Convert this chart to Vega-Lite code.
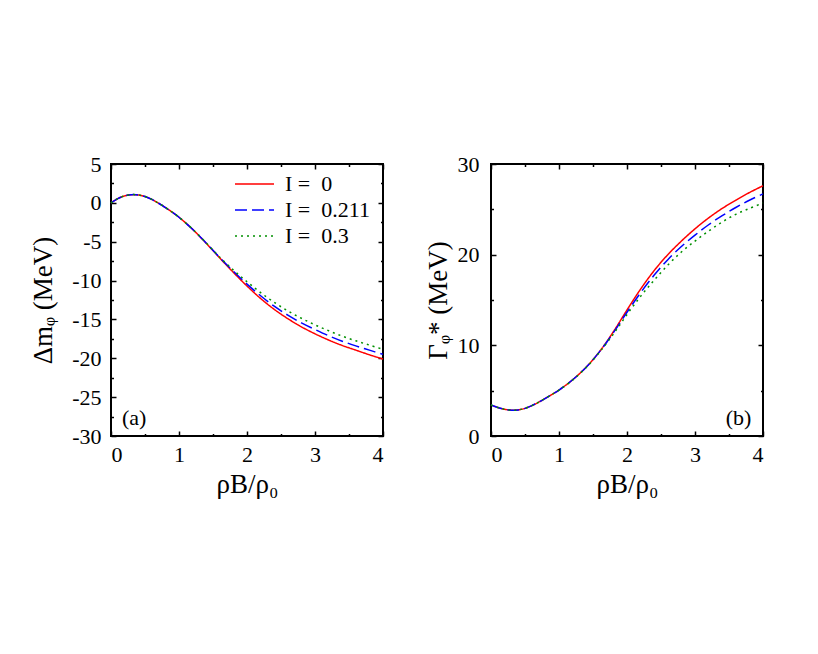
{
  "$schema": "https://vega.github.io/schema/vega-lite/v6.json",
  "padding": {"left": 28, "top": 152, "right": 5, "bottom": 5},
  "background": "white",
  "spacing": 108,
  "bounds": "flush",
  "config": {
    "font": "Liberation Serif",
    "view": {"stroke": "black", "strokeWidth": 2},
    "axis": {
      "grid": false, "domain": false,
      "labelFont": "Liberation Serif", "labelFontSize": 22, "labelColor": "black",
      "titleFont": "Liberation Serif", "titleFontSize": 27, "titleFontWeight": "normal", "titleColor": "black",
      "tickColor": "black", "tickWidth": 1.5
    },
    "legend": {"labelFont": "Liberation Serif"},
    "text": {"font": "Liberation Serif", "fontSize": 22, "color": "black"}
  },
  "datasets": {
    "dm": [
      {"rho": 0.0, "I": "I = \u00a00", "v": 0.0}, {"rho": 0.1, "I": "I = \u00a00", "v": 0.55}, {"rho": 0.2, "I": "I = \u00a00", "v": 0.9}, {"rho": 0.3, "I": "I = \u00a00", "v": 1.05}, {"rho": 0.4, "I": "I = \u00a00", "v": 1.02}, {"rho": 0.5, "I": "I = \u00a00", "v": 0.82}, {"rho": 0.6, "I": "I = \u00a00", "v": 0.45}, {"rho": 0.7, "I": "I = \u00a00", "v": -0.05}, {"rho": 0.8, "I": "I = \u00a00", "v": -0.6}, {"rho": 0.9, "I": "I = \u00a00", "v": -1.2}, {"rho": 1.0, "I": "I = \u00a00", "v": -1.85}, {"rho": 1.2, "I": "I = \u00a00", "v": -3.4}, {"rho": 1.4, "I": "I = \u00a00", "v": -5.2}, {"rho": 1.6, "I": "I = \u00a00", "v": -7.1}, {"rho": 1.8, "I": "I = \u00a00", "v": -8.95}, {"rho": 2.0, "I": "I = \u00a00", "v": -10.7}, {"rho": 2.2, "I": "I = \u00a00", "v": -12.3}, {"rho": 2.4, "I": "I = \u00a00", "v": -13.7}, {"rho": 2.6, "I": "I = \u00a00", "v": -14.9}, {"rho": 2.8, "I": "I = \u00a00", "v": -15.95}, {"rho": 3.0, "I": "I = \u00a00", "v": -16.85}, {"rho": 3.2, "I": "I = \u00a00", "v": -17.65}, {"rho": 3.4, "I": "I = \u00a00", "v": -18.35}, {"rho": 3.6, "I": "I = \u00a00", "v": -18.95}, {"rho": 3.8, "I": "I = \u00a00", "v": -19.55}, {"rho": 4.0, "I": "I = \u00a00", "v": -20.1},
      {"rho": 0.0, "I": "I = \u00a00.211", "v": 0.0}, {"rho": 0.1, "I": "I = \u00a00.211", "v": 0.55}, {"rho": 0.2, "I": "I = \u00a00.211", "v": 0.9}, {"rho": 0.3, "I": "I = \u00a00.211", "v": 1.05}, {"rho": 0.4, "I": "I = \u00a00.211", "v": 1.02}, {"rho": 0.5, "I": "I = \u00a00.211", "v": 0.82}, {"rho": 0.6, "I": "I = \u00a00.211", "v": 0.45}, {"rho": 0.7, "I": "I = \u00a00.211", "v": -0.05}, {"rho": 0.8, "I": "I = \u00a00.211", "v": -0.6}, {"rho": 0.9, "I": "I = \u00a00.211", "v": -1.2}, {"rho": 1.0, "I": "I = \u00a00.211", "v": -1.85}, {"rho": 1.2, "I": "I = \u00a00.211", "v": -3.4}, {"rho": 1.4, "I": "I = \u00a00.211", "v": -5.18}, {"rho": 1.6, "I": "I = \u00a00.211", "v": -7.05}, {"rho": 1.8, "I": "I = \u00a00.211", "v": -8.8}, {"rho": 2.0, "I": "I = \u00a00.211", "v": -10.45}, {"rho": 2.2, "I": "I = \u00a00.211", "v": -11.95}, {"rho": 2.4, "I": "I = \u00a00.211", "v": -13.3}, {"rho": 2.6, "I": "I = \u00a00.211", "v": -14.45}, {"rho": 2.8, "I": "I = \u00a00.211", "v": -15.45}, {"rho": 3.0, "I": "I = \u00a00.211", "v": -16.3}, {"rho": 3.2, "I": "I = \u00a00.211", "v": -17.1}, {"rho": 3.4, "I": "I = \u00a00.211", "v": -17.8}, {"rho": 3.6, "I": "I = \u00a00.211", "v": -18.4}, {"rho": 3.8, "I": "I = \u00a00.211", "v": -18.95}, {"rho": 4.0, "I": "I = \u00a00.211", "v": -19.5},
      {"rho": 0.0, "I": "I = \u00a00.3", "v": 0.0}, {"rho": 0.1, "I": "I = \u00a00.3", "v": 0.55}, {"rho": 0.2, "I": "I = \u00a00.3", "v": 0.9}, {"rho": 0.3, "I": "I = \u00a00.3", "v": 1.05}, {"rho": 0.4, "I": "I = \u00a00.3", "v": 1.02}, {"rho": 0.5, "I": "I = \u00a00.3", "v": 0.82}, {"rho": 0.6, "I": "I = \u00a00.3", "v": 0.45}, {"rho": 0.7, "I": "I = \u00a00.3", "v": -0.05}, {"rho": 0.8, "I": "I = \u00a00.3", "v": -0.6}, {"rho": 0.9, "I": "I = \u00a00.3", "v": -1.2}, {"rho": 1.0, "I": "I = \u00a00.3", "v": -1.85}, {"rho": 1.2, "I": "I = \u00a00.3", "v": -3.38}, {"rho": 1.4, "I": "I = \u00a00.3", "v": -5.15}, {"rho": 1.6, "I": "I = \u00a00.3", "v": -7.0}, {"rho": 1.8, "I": "I = \u00a00.3", "v": -8.65}, {"rho": 2.0, "I": "I = \u00a00.3", "v": -10.15}, {"rho": 2.2, "I": "I = \u00a00.3", "v": -11.55}, {"rho": 2.4, "I": "I = \u00a00.3", "v": -12.8}, {"rho": 2.6, "I": "I = \u00a00.3", "v": -13.9}, {"rho": 2.8, "I": "I = \u00a00.3", "v": -14.85}, {"rho": 3.0, "I": "I = \u00a00.3", "v": -15.7}, {"rho": 3.2, "I": "I = \u00a00.3", "v": -16.45}, {"rho": 3.4, "I": "I = \u00a00.3", "v": -17.15}, {"rho": 3.6, "I": "I = \u00a00.3", "v": -17.75}, {"rho": 3.8, "I": "I = \u00a00.3", "v": -18.3}, {"rho": 4.0, "I": "I = \u00a00.3", "v": -18.85}
    ],
    "gw": [
      {"rho": 0.0, "I": "I = \u00a00", "v": 3.42}, {"rho": 0.1, "I": "I = \u00a00", "v": 3.15}, {"rho": 0.2, "I": "I = \u00a00", "v": 2.95}, {"rho": 0.3, "I": "I = \u00a00", "v": 2.85}, {"rho": 0.4, "I": "I = \u00a00", "v": 2.88}, {"rho": 0.5, "I": "I = \u00a00", "v": 3.05}, {"rho": 0.6, "I": "I = \u00a00", "v": 3.35}, {"rho": 0.7, "I": "I = \u00a00", "v": 3.72}, {"rho": 0.8, "I": "I = \u00a00", "v": 4.15}, {"rho": 0.9, "I": "I = \u00a00", "v": 4.6}, {"rho": 1.0, "I": "I = \u00a00", "v": 5.07}, {"rho": 1.2, "I": "I = \u00a00", "v": 6.2}, {"rho": 1.4, "I": "I = \u00a00", "v": 7.6}, {"rho": 1.6, "I": "I = \u00a00", "v": 9.35}, {"rho": 1.8, "I": "I = \u00a00", "v": 11.5}, {"rho": 2.0, "I": "I = \u00a00", "v": 13.9}, {"rho": 2.2, "I": "I = \u00a00", "v": 16.2}, {"rho": 2.4, "I": "I = \u00a00", "v": 18.25}, {"rho": 2.6, "I": "I = \u00a00", "v": 20.0}, {"rho": 2.8, "I": "I = \u00a00", "v": 21.5}, {"rho": 3.0, "I": "I = \u00a00", "v": 22.85}, {"rho": 3.2, "I": "I = \u00a00", "v": 24.05}, {"rho": 3.4, "I": "I = \u00a00", "v": 25.1}, {"rho": 3.6, "I": "I = \u00a00", "v": 26.0}, {"rho": 3.8, "I": "I = \u00a00", "v": 26.85}, {"rho": 4.0, "I": "I = \u00a00", "v": 27.6},
      {"rho": 0.0, "I": "I = \u00a00.211", "v": 3.42}, {"rho": 0.1, "I": "I = \u00a00.211", "v": 3.15}, {"rho": 0.2, "I": "I = \u00a00.211", "v": 2.95}, {"rho": 0.3, "I": "I = \u00a00.211", "v": 2.85}, {"rho": 0.4, "I": "I = \u00a00.211", "v": 2.88}, {"rho": 0.5, "I": "I = \u00a00.211", "v": 3.05}, {"rho": 0.6, "I": "I = \u00a00.211", "v": 3.35}, {"rho": 0.7, "I": "I = \u00a00.211", "v": 3.72}, {"rho": 0.8, "I": "I = \u00a00.211", "v": 4.15}, {"rho": 0.9, "I": "I = \u00a00.211", "v": 4.6}, {"rho": 1.0, "I": "I = \u00a00.211", "v": 5.07}, {"rho": 1.2, "I": "I = \u00a00.211", "v": 6.2}, {"rho": 1.4, "I": "I = \u00a00.211", "v": 7.59}, {"rho": 1.6, "I": "I = \u00a00.211", "v": 9.33}, {"rho": 1.8, "I": "I = \u00a00.211", "v": 11.4}, {"rho": 2.0, "I": "I = \u00a00.211", "v": 13.65}, {"rho": 2.2, "I": "I = \u00a00.211", "v": 15.8}, {"rho": 2.4, "I": "I = \u00a00.211", "v": 17.75}, {"rho": 2.6, "I": "I = \u00a00.211", "v": 19.45}, {"rho": 2.8, "I": "I = \u00a00.211", "v": 20.9}, {"rho": 3.0, "I": "I = \u00a00.211", "v": 22.15}, {"rho": 3.2, "I": "I = \u00a00.211", "v": 23.3}, {"rho": 3.4, "I": "I = \u00a00.211", "v": 24.3}, {"rho": 3.6, "I": "I = \u00a00.211", "v": 25.2}, {"rho": 3.8, "I": "I = \u00a00.211", "v": 26.0}, {"rho": 4.0, "I": "I = \u00a00.211", "v": 26.7},
      {"rho": 0.0, "I": "I = \u00a00.3", "v": 3.42}, {"rho": 0.1, "I": "I = \u00a00.3", "v": 3.15}, {"rho": 0.2, "I": "I = \u00a00.3", "v": 2.95}, {"rho": 0.3, "I": "I = \u00a00.3", "v": 2.85}, {"rho": 0.4, "I": "I = \u00a00.3", "v": 2.88}, {"rho": 0.5, "I": "I = \u00a00.3", "v": 3.05}, {"rho": 0.6, "I": "I = \u00a00.3", "v": 3.35}, {"rho": 0.7, "I": "I = \u00a00.3", "v": 3.72}, {"rho": 0.8, "I": "I = \u00a00.3", "v": 4.15}, {"rho": 0.9, "I": "I = \u00a00.3", "v": 4.6}, {"rho": 1.0, "I": "I = \u00a00.3", "v": 5.06}, {"rho": 1.2, "I": "I = \u00a00.3", "v": 6.17}, {"rho": 1.4, "I": "I = \u00a00.3", "v": 7.56}, {"rho": 1.6, "I": "I = \u00a00.3", "v": 9.28}, {"rho": 1.8, "I": "I = \u00a00.3", "v": 11.25}, {"rho": 2.0, "I": "I = \u00a00.3", "v": 13.4}, {"rho": 2.2, "I": "I = \u00a00.3", "v": 15.4}, {"rho": 2.4, "I": "I = \u00a00.3", "v": 17.2}, {"rho": 2.6, "I": "I = \u00a00.3", "v": 18.85}, {"rho": 2.8, "I": "I = \u00a00.3", "v": 20.3}, {"rho": 3.0, "I": "I = \u00a00.3", "v": 21.5}, {"rho": 3.2, "I": "I = \u00a00.3", "v": 22.6}, {"rho": 3.4, "I": "I = \u00a00.3", "v": 23.6}, {"rho": 3.6, "I": "I = \u00a00.3", "v": 24.45}, {"rho": 3.8, "I": "I = \u00a00.3", "v": 25.1}, {"rho": 4.0, "I": "I = \u00a00.3", "v": 25.7}
    ]
  },
  "hconcat": [
    {
      "width": 272, "height": 272,
      "data": {"name": "dm"},
      "resolve": {"axis": {"x": "independent", "y": "independent"}},
      "layer": [
        {
          "mark": {"type": "line", "strokeWidth": 1.5, "interpolate": "catmull-rom"},
          "encoding": {
            "x": {"field": "rho", "type": "quantitative", "scale": {"domain": [0, 4], "nice": false},
                  "axis": {"orient": "bottom", "values": [0, 1, 2, 3, 4], "tickSize": -5, "labelPadding": 13, "labelExpr": "'' + datum.value", "labelFont": "Liberation Serif", "titleFont": "Liberation Serif", "title": "ρB/ρ₀", "titlePadding": 6}},
            "y": {"field": "v", "type": "quantitative", "scale": {"domain": [-30, 5], "nice": false, "zero": false},
                  "axis": {"orient": "left", "values": [-30, -25, -20, -15, -10, -5, 0, 5], "tickSize": -5, "labelPadding": 15, "labelExpr": "'' + datum.value", "labelFont": "Liberation Serif", "titleFont": "Liberation Serif", "title": "Δmᵩ (MeV)", "titlePadding": 14}},
            "color": {"field": "I", "type": "nominal",
                      "scale": {"domain": ["I = \u00a00", "I = \u00a00.211", "I = \u00a00.3"], "range": ["#ff0000", "#0000ff", "#009000"]},
                      "legend": {"orient": "none", "legendX": 123, "legendY": 9, "title": null, "symbolType": "stroke", "symbolSize": 1521, "symbolStrokeWidth": 1.5, "labelFont": "Liberation Serif", "labelFontSize": 22, "labelColor": "black", "labelOffset": 10, "rowPadding": 4, "clipHeight": 22, "padding": 0}},
            "strokeDash": {"field": "I", "type": "nominal",
                      "scale": {"domain": ["I = \u00a00", "I = \u00a00.211", "I = \u00a00.3"], "range": [[1, 0], [12, 5], [2, 4]]},
                      "legend": {"orient": "none", "legendX": 123, "legendY": 9, "title": null, "symbolType": "stroke", "symbolSize": 1521, "symbolStrokeWidth": 1.5, "labelFont": "Liberation Serif", "labelFontSize": 22, "labelColor": "black", "labelOffset": 10, "rowPadding": 4, "clipHeight": 22, "padding": 0}}
          }
        },
        {
          "mark": {"type": "point", "opacity": 0},
          "encoding": {
            "x": {"field": "rho", "type": "quantitative", "axis": {"orient": "top", "values": [0, 1, 2, 3, 4], "tickSize": -5, "labels": false, "title": null}},
            "y": {"field": "v", "type": "quantitative", "axis": {"orient": "right", "values": [-30, -25, -20, -15, -10, -5, 0, 5], "tickSize": -5, "labels": false, "title": null}}
          }
        },
        {
          "mark": {"type": "point", "opacity": 0},
          "encoding": {
            "x": {"field": "rho", "type": "quantitative", "axis": {"orient": "bottom", "values": [0.5, 1.5, 2.5, 3.5], "tickSize": -2.5, "labels": false, "title": null}},
            "y": {"field": "v", "type": "quantitative", "axis": {"orient": "left", "values": [-27.5, -22.5, -17.5, -12.5, -7.5, -2.5, 2.5], "tickSize": -2.5, "labels": false, "title": null}}
          }
        },
        {
          "mark": {"type": "point", "opacity": 0},
          "encoding": {
            "x": {"field": "rho", "type": "quantitative", "axis": {"orient": "top", "values": [0.5, 1.5, 2.5, 3.5], "tickSize": -2.5, "labels": false, "title": null}},
            "y": {"field": "v", "type": "quantitative", "axis": {"orient": "right", "values": [-27.5, -22.5, -17.5, -12.5, -7.5, -2.5, 2.5], "tickSize": -2.5, "labels": false, "title": null}}
          }
        },
        {
          "data": {"values": [{"x": 0.34, "y": -27.7, "t": "(a)"}]},
          "mark": {"type": "text", "align": "center", "baseline": "middle", "font": "Liberation Serif", "fontSize": 22},
          "encoding": {
            "x": {"field": "x", "type": "quantitative", "axis": null},
            "y": {"field": "y", "type": "quantitative", "axis": null},
            "text": {"field": "t"}
          }
        }
      ]
    },
    {
      "width": 272, "height": 272,
      "data": {"name": "gw"},
      "resolve": {"axis": {"x": "independent", "y": "independent"}},
      "layer": [
        {
          "mark": {"type": "line", "strokeWidth": 1.5, "interpolate": "catmull-rom"},
          "encoding": {
            "x": {"field": "rho", "type": "quantitative", "scale": {"domain": [0, 4], "nice": false},
                  "axis": {"orient": "bottom", "values": [0, 1, 2, 3, 4], "tickSize": -5, "labelPadding": 13, "labelExpr": "'' + datum.value", "labelFont": "Liberation Serif", "titleFont": "Liberation Serif", "title": "ρB/ρ₀", "titlePadding": 6}},
            "y": {"field": "v", "type": "quantitative", "scale": {"domain": [0, 30], "nice": false},
                  "axis": {"orient": "left", "values": [0, 10, 20, 30], "tickSize": -5, "labelPadding": 17, "labelExpr": "'' + datum.value", "labelFont": "Liberation Serif", "titleFont": "Liberation Serif", "title": "Γᵩ* (MeV)", "titlePadding": 5}},
            "color": {"field": "I", "type": "nominal",
                      "scale": {"domain": ["I = \u00a00", "I = \u00a00.211", "I = \u00a00.3"], "range": ["#ff0000", "#0000ff", "#009000"]},
                      "legend": null},
            "strokeDash": {"field": "I", "type": "nominal",
                      "scale": {"domain": ["I = \u00a00", "I = \u00a00.211", "I = \u00a00.3"], "range": [[1, 0], [12, 5], [2, 4]]},
                      "legend": null}
          }
        },
        {
          "mark": {"type": "point", "opacity": 0},
          "encoding": {
            "x": {"field": "rho", "type": "quantitative", "axis": {"orient": "top", "values": [0, 1, 2, 3, 4], "tickSize": -5, "labels": false, "title": null}},
            "y": {"field": "v", "type": "quantitative", "axis": {"orient": "right", "values": [0, 10, 20, 30], "tickSize": -5, "labels": false, "title": null}}
          }
        },
        {
          "mark": {"type": "point", "opacity": 0},
          "encoding": {
            "x": {"field": "rho", "type": "quantitative", "axis": {"orient": "bottom", "values": [0.5, 1.5, 2.5, 3.5], "tickSize": -2.5, "labels": false, "title": null}},
            "y": {"field": "v", "type": "quantitative", "axis": {"orient": "left", "values": [5, 15, 25], "tickSize": -2.5, "labels": false, "title": null}}
          }
        },
        {
          "mark": {"type": "point", "opacity": 0},
          "encoding": {
            "x": {"field": "rho", "type": "quantitative", "axis": {"orient": "top", "values": [0.5, 1.5, 2.5, 3.5], "tickSize": -2.5, "labels": false, "title": null}},
            "y": {"field": "v", "type": "quantitative", "axis": {"orient": "right", "values": [5, 15, 25], "tickSize": -2.5, "labels": false, "title": null}}
          }
        },
        {
          "data": {"values": [{"x": 3.64, "y": 2.04, "t": "(b)"}]},
          "mark": {"type": "text", "align": "center", "baseline": "middle", "font": "Liberation Serif", "fontSize": 22},
          "encoding": {
            "x": {"field": "x", "type": "quantitative", "axis": null},
            "y": {"field": "y", "type": "quantitative", "axis": null},
            "text": {"field": "t"}
          }
        }
      ]
    }
  ]
}
